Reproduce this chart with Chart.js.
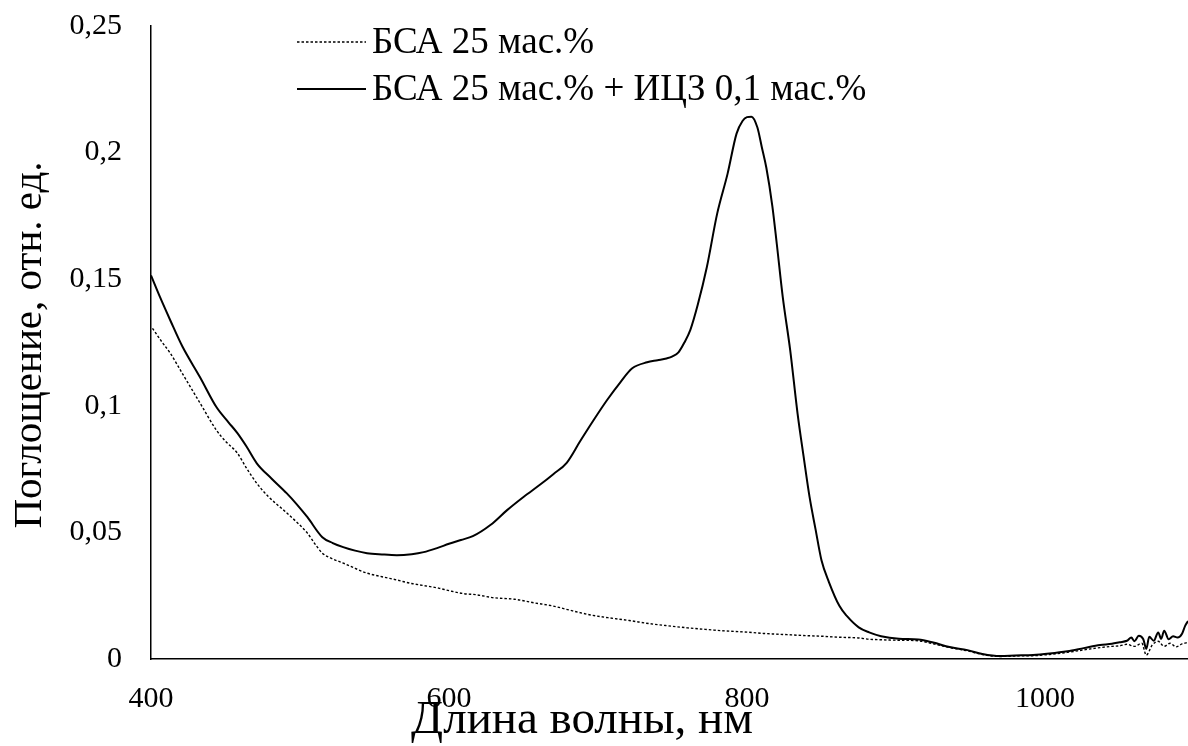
<!DOCTYPE html>
<html>
<head>
<meta charset="utf-8">
<script src="https://cdn.jsdelivr.net/npm/chart.js@4.4.0/dist/chart.umd.min.js"></script>
<style>
html,body{margin:0;padding:0;background:#fff;overflow:hidden;}
canvas{display:block;}
</style>
</head>
<body>
<canvas id="c" width="1188" height="746"></canvas>
<script>
// ---- data ----
const seriesNames = ['БСА 25 мас.%', 'БСА 25 мас.% + ИЦЗ 0,1 мас.%'];

const bsaWavelength = [401,407,413,421,433,444,450,458,464,471,479,489,497,505,510,515,522,529,537,545,555,565,575,583,593,600,610,618,630,644,657,670,683,695,708,721,734,747,760,772,785,798,811,824,837,850,862,875,882,890,902,915,925,936,948,958,970,980,992,1003,1015,1026,1037,1045,1050,1055,1060,1065,1068,1072,1076,1080,1084,1088,1092,1096];
const bsaAbsorbance = [0.1306,0.1255,0.1207,0.1128,0.1010,0.0903,0.0860,0.0813,0.0755,0.0694,0.0640,0.0588,0.0545,0.0497,0.0455,0.0418,0.0395,0.0379,0.0358,0.0339,0.0325,0.0312,0.0298,0.0290,0.0280,0.0270,0.0258,0.0254,0.0242,0.0236,0.0222,0.0209,0.0190,0.0174,0.0162,0.0152,0.0140,0.0131,0.0123,0.0117,0.0111,0.0107,0.0101,0.0097,0.0093,0.0090,0.0086,0.0083,0.0078,0.0076,0.0074,0.0072,0.0060,0.0045,0.0032,0.0018,0.0010,0.0012,0.0013,0.0018,0.0026,0.0036,0.0045,0.0050,0.0052,0.0058,0.0050,0.0062,0.0015,0.0055,0.0070,0.0050,0.0062,0.0048,0.0060,0.0065];

const iczWavelength = [400,406,413,421,433,444,452,458,464,471,481,491,498,505,515,522,529,537,545,555,565,575,583,592,600,608,616,628,639,650,661,670,679,688,697,706,715,723,733,740,746,750,754,758,762,767,773,780,787,793,797,800,803,807,810,813,817,820,824,829,834,838,842,846,850,855,862,867,875,882,890,902,915,925,936,948,958,970,980,992,1003,1015,1026,1037,1045,1050,1055,1058,1060,1063,1066,1068,1070,1073,1076,1078,1080,1083,1086,1089,1092,1094,1096];
const iczAbsorbance = [0.1515,0.1430,0.1337,0.1235,0.1112,0.0994,0.0935,0.0892,0.0840,0.0773,0.0712,0.0655,0.0610,0.0560,0.0481,0.0458,0.0442,0.0428,0.0418,0.0413,0.0410,0.0414,0.0422,0.0438,0.0455,0.0470,0.0485,0.0530,0.0588,0.0640,0.0688,0.0730,0.0775,0.0860,0.0943,0.1022,0.1093,0.1148,0.1172,0.1180,0.1187,0.1195,0.1211,0.1250,0.1300,0.1400,0.1546,0.1759,0.1917,0.2075,0.2125,0.2140,0.2142,0.2099,0.2020,0.1940,0.1790,0.1640,0.1430,0.1220,0.0967,0.0800,0.0640,0.0513,0.0390,0.0304,0.0210,0.0170,0.0125,0.0105,0.0090,0.0080,0.0077,0.0065,0.0047,0.0035,0.0020,0.0012,0.0014,0.0016,0.0022,0.0031,0.0043,0.0055,0.0060,0.0066,0.0072,0.0085,0.0070,0.0092,0.0078,0.0040,0.0088,0.0072,0.0105,0.0080,0.0112,0.0078,0.0090,0.0085,0.0100,0.0130,0.0150];

const xTickValues = [400, 600, 800, 1000];
const xTickLabels = ['400', '600', '800', '1000'];
const yTickValues = [0, 0.05, 0.1, 0.15, 0.2, 0.25];
const yTickLabels = ['0', '0,05', '0,1', '0,15', '0,2', '0,25'];

const xTitle = 'Длина волны, нм';
const yTitle = 'Поглощение, отн. ед.';

// ---- chart ----
const FONT = "'Liberation Serif', 'Times New Roman', serif";
const toPts = (xs, ys) => xs.map((x, i) => ({x: x, y: ys[i]}));

const extraText = {
  id: 'extraText',
  afterDraw(chart) {
    const ctx = chart.ctx;
    ctx.save();
    ctx.fillStyle = '#000';
    ctx.textAlign = 'center';
    ctx.textBaseline = 'middle';
    // x axis title
    ctx.font = '47px ' + FONT;
    ctx.fillText(xTitle, 582, 721);
    // y axis title
    ctx.font = '41px ' + FONT;
    ctx.save();
    ctx.translate(30, 345);
    ctx.rotate(-Math.PI / 2);
    ctx.fillText(yTitle, 0, 0);
    ctx.restore();
    // legend
    const ds = chart.data.datasets;
    const rows = [42, 89];
    ctx.font = '37px ' + FONT;
    ctx.textAlign = 'left';
    ds.forEach((d, i) => {
      ctx.save();
      ctx.strokeStyle = d.borderColor;
      ctx.lineWidth = d.borderWidth;
      ctx.setLineDash(d.borderDash || []);
      ctx.beginPath();
      ctx.moveTo(297, rows[i]);
      ctx.lineTo(366, rows[i]);
      ctx.stroke();
      ctx.restore();
      ctx.fillText(d.label, 372, rows[i] + 1);
    });
    ctx.restore();
  }
};

new Chart(document.getElementById('c'), {
  type: 'line',
  data: {
    datasets: [
      {
        label: seriesNames[0],
        data: toPts(bsaWavelength, bsaAbsorbance),
        borderColor: '#000',
        borderWidth: 1.4,
        borderDash: [2.5, 2],
        pointRadius: 0,
        cubicInterpolationMode: 'monotone',
        fill: false
      },
      {
        label: seriesNames[1],
        data: toPts(iczWavelength, iczAbsorbance),
        borderColor: '#000',
        borderWidth: 2,
        pointRadius: 0,
        cubicInterpolationMode: 'monotone',
        fill: false
      }
    ]
  },
  options: {
    responsive: false,
    animation: false,
    events: [],
    layout: { padding: { left: 0, right: 0, top: 26, bottom: 0 } },
    plugins: { legend: { display: false }, tooltip: { enabled: false }, title: { display: false } },
    scales: {
      x: {
        type: 'linear',
        min: 400,
        max: 1096,
        afterBuildTicks: s => { s.ticks = xTickValues.map(v => ({value: v})); },
        afterFit: s => { s.height = 87; s.paddingRight = 0; },
        grid: { display: false, drawTicks: false },
        border: { display: true, color: '#000', width: 1.5 },
        ticks: {
          color: '#000',
          font: { family: FONT, size: 30 },
          padding: 22,
          maxRotation: 0,
          autoSkip: false,
          callback: (v, i) => xTickLabels[i]
        }
      },
      y: {
        type: 'linear',
        min: 0,
        max: 0.25,
        afterBuildTicks: s => { s.ticks = yTickValues.map(v => ({value: v})); },
        afterFit: s => { s.width = 151; s.paddingTop = 0; s.paddingBottom = 0; },
        grid: { display: false, drawTicks: false },
        border: { display: true, color: '#000', width: 1.5 },
        ticks: {
          color: '#000',
          font: { family: FONT, size: 30 },
          padding: 29,
          autoSkip: false,
          callback: (v, i) => yTickLabels[i]
        }
      }
    }
  },
  plugins: [extraText]
});
</script>
</body>
</html>
